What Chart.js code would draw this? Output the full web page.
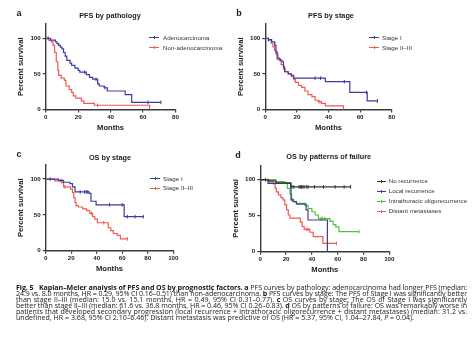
<!DOCTYPE html>
<html><head><meta charset="utf-8">
<script src="https://cdn.jsdelivr.net/npm/chart.js@4.4.1/dist/chart.umd.min.js"></script>
<style>
html,body{margin:0;padding:0;background:#fff;}
body{width:473px;height:339px;position:relative;overflow:hidden;font-family:"Liberation Sans",Arial,sans-serif;color:#222;}
canvas{position:absolute;}
.t{position:absolute;white-space:nowrap;transform:translate(-50%,-50%);font-weight:bold;color:#222;line-height:1;}
.lt{font-size:9px;}
.ti{font-size:7.3px;}
.lg{position:absolute;white-space:nowrap;font-size:6.2px;color:#333;line-height:1;transform:translateY(-50%);}
.sw{position:absolute;height:0;}
.sw i{position:absolute;left:50%;top:-2px;width:0;height:3px;}
.cap{position:absolute;left:16px;top:284px;width:451px;font-family:"Open Sans","Liberation Sans",sans-serif;font-size:7.1px;line-height:6px;color:#1a1a1a;will-change:transform;}
.cap div{text-align:justify;text-align-last:justify;white-space:nowrap;}
.cap div.last{text-align-last:left;}
</style>
</head><body>
<canvas id="ca"></canvas><canvas id="cb"></canvas><canvas id="cc"></canvas><canvas id="cd"></canvas>
<div class="t lt" style="left:19px;top:13px">a</div>
<div class="t lt" style="left:239px;top:13px">b</div>
<div class="t lt" style="left:19px;top:154px">c</div>
<div class="t lt" style="left:238px;top:155px">d</div>
<div class="t ti" style="left:110px;top:15.7px">PFS by pathology</div>
<div class="t ti" style="left:331px;top:15.7px">PFS by stage</div>
<div class="t ti" style="left:110px;top:158px">OS by stage</div>
<div class="t ti" style="left:328.7px;top:157px">OS by patterns of failure</div>
<div id="legends"></div>
<div class="cap">
<div><b>Fig. 5&nbsp;&nbsp; Kaplan–Meier analysis of PFS and OS by prognostic factors.</b> <b>a</b> PFS curves by pathology: adenocarcinoma had longer PFS (median:</div>
<div>24.9 vs. 8.0 months, HR = 0.29, 95% CI 0.16–0.51) than non-adenocarcinoma. <b>b</b> PFS curves by stage: The PFS of Stage I was significantly better</div>
<div>than stage II–III (median: 15.0 vs. 15.1 months, HR = 0.49, 95% CI 0.31–0.77). <b>c</b> OS curves by stage: The OS of Stage I was significantly</div>
<div>better than stage II–III (median: 61.6 vs. 36.8 months, HR = 0.46, 95% CI 0.26–0.83). <b>d</b> OS by patterns of failure: OS was remarkably worse in</div>
<div>patients that developed secondary progression (local recurrence + intrathoracic oligorecurrence + distant metastases) (median: 31.2 vs.</div>
<div class="last">undefined, HR = 3.68, 95% CI 2.10–6.46). Distant metastasis was predictive of OS (HR = 5.37, 95% CI, 1.04–27.84, <i>P</i> = 0.04).</div>
</div>
<script>
// ---------- DATA ----------
const yTicks = [0, 50, 100];
const xTicks80 = [0, 20, 40, 60, 80];
const xTicks100 = [0, 20, 40, 60, 80, 100];

// Panel a: PFS by pathology
const aLabels = ['Adenocarcinoma', 'Non-adenocarcinoma'];
const aAdenoT = [0, 3, 6, 7, 8, 9, 10, 11, 12, 13, 15, 16, 18, 20, 21, 25, 27, 29, 32, 33, 36, 38, 49, 53, 71];
const aAdenoS = [100, 97.5, 95, 92.5, 90, 87.5, 85, 80, 75, 69, 65, 62, 58, 55, 52.5, 49, 45, 42.5, 36, 33, 30.5, 26, 21, 10, 10];
const aAdenoC = [1.5, 24, 31, 36.5, 63, 71];
const aNonT = [0, 2, 3.5, 4.5, 5.5, 6.5, 7.5, 8, 9.5, 11.5, 12.5, 14.5, 16, 17, 18.5, 22, 23.5, 30, 64];
const aNonS = [100, 97, 95, 90, 80, 67, 55, 48, 44, 41, 33, 28, 24, 19, 16, 12, 8.5, 6, 0];
const aNonC = [32];

// Panel b: PFS by stage
const bLabels = ['Stage I', 'Stage II–III'];
const bIT = [0, 2, 4, 6, 6.7, 7.5, 9.5, 10.5, 11.5, 12.2, 14.5, 16.5, 18, 38, 53.5, 64.5, 71];
const bIS = [100, 98, 95, 90, 81, 71, 69, 67, 60, 53, 50, 48, 44, 39, 24, 12, 12];
const bIC = [2, 31.5, 35, 50, 64, 71];
const bIIT = [0, 2, 3.8, 4.8, 5.9, 6.7, 8, 8.8, 10, 11.5, 12.5, 14.5, 16.5, 18, 19, 21, 23, 25, 27, 29.5, 31.5, 33.5, 35.5, 38, 49.5];
const bIIS = [100, 97.5, 93, 88, 83, 78, 73, 69, 63, 57, 53, 50, 46, 42, 38, 34, 31, 26, 21, 18, 13, 11, 8.5, 5, 0];
const bIIC = [34];

// Panel c: OS by stage
const cLabels = ['Stage I', 'Stage II–III'];
const cIT = [0, 10, 14, 19, 21, 23, 34, 35.5, 39.5, 61.5, 77];
const cIS = [100, 98, 95.5, 93.5, 89, 82, 80, 69, 64, 47.5, 47.5];
const cIC = [3.5, 12, 27, 30.5, 32, 33, 50, 60, 64, 70, 76.5];
const cIIT = [0, 7, 12.5, 14, 19.5, 21, 22, 23, 23.8, 25.5, 29, 32, 34.5, 36.8, 38.5, 40.5, 49, 51, 53, 56, 58.5, 64];
const cIIS = [100, 97.5, 95, 89, 86, 81, 74, 67, 63, 61, 58.5, 56, 52, 47.5, 44, 39, 32, 28, 24, 21.5, 16.5, 16.5];
const cIIC = [15, 36, 45.5, 64];

// Panel d: OS by patterns of failure
const dLabels = ['No recurrence', 'Local recurrence', 'Intrathoracic oligorecurrence', 'Distant metastases'];
const dNoT = [0, 6, 12, 23.5, 70];
const dNoS = [100, 98.5, 95.5, 90, 90];
const dNoC = [4, 24.5, 26, 30, 31, 32, 33, 34, 36, 37, 42, 49, 58, 65, 70];
const dLocT = [0, 6, 23.8, 25.5, 28, 35.5, 37, 52];
const dLocS = [100, 95, 72, 69.5, 66, 58, 44, 0];
const dLocC = [];
const dIntT = [0, 12, 19, 21, 23, 24.3, 26, 28, 34.7, 37, 40, 42.5, 45, 54, 56.5, 58.5, 61, 76.5];
const dIntS = [100, 97.5, 95, 88, 80, 72, 69.5, 67, 64, 60, 55.5, 51, 46, 42, 37.5, 34.5, 28, 28];
const dIntC = [25, 47, 48, 50, 76.5];
const dDisT = [0, 7, 10, 11.5, 12.5, 14, 16, 17.5, 19, 20.4, 21.7, 23, 31, 32.5, 34, 38.5, 41, 48.5, 59];
const dDisS = [100, 97, 94, 88, 83, 79, 75, 72, 65, 58, 51, 46.5, 41, 35, 31, 27, 21, 11.5, 11.5];
const dDisC = [36, 37, 59];

// ---------- STYLE ----------
const BLUE = '#3c3c9c', RED = '#ef5a55', GREEN = '#4fc43a', BLACK = '#333333';
const AX = '#3a3a3a';

function stepAt(T, S, t) { let v = S[0]; for (let i = 0; i < T.length; i++) { if (T[i] <= t) v = S[i]; } return v; }
function series(label, T, S, C, color) {
  return [
    { label, data: T.map((t, i) => ({ x: t, y: S[i] })), borderColor: color, backgroundColor: color,
      borderWidth: 1.2, stepped: true, pointRadius: 0, fill: false, clip: false },
    { label: label + ' (censored)', data: C.map(t => ({ x: t, y: stepAt(T, S, t) })), showLine: false,
      pointStyle: 'line', rotation: 90, pointRadius: 1.8, borderColor: color, backgroundColor: color,
      pointBorderWidth: 1, borderWidth: 1, clip: false }
  ];
}

function makeChart(id, box, area, datasets, xMax, xTicks, yTitleX, monthsY) {
  const cv = document.getElementById(id);
  cv.width = box.w; cv.height = box.h;
  cv.style.left = box.l + 'px'; cv.style.top = box.t + 'px';
  cv.style.width = box.w + 'px'; cv.style.height = box.h + 'px';
  const tf = { family: '"Liberation Sans", Arial, sans-serif', size: 6.2, weight: 'bold' };
  const titleFont = { family: '"Liberation Sans", Arial, sans-serif', size: 7.6, weight: 'bold', lineHeight: 1.2 };
  const half = 7.6 * 1.2 / 2;
  new Chart(cv, {
    type: 'line',
    data: { datasets },
    options: {
      responsive: false, animation: false, devicePixelRatio: 1,
      layout: { padding: { left: 0, top: area.t, right: box.w - area.r, bottom: 0 } },
      plugins: { legend: { display: false }, tooltip: { enabled: false }, title: { display: false } },
      scales: {
        x: {
          type: 'linear', min: 0, max: xMax,
          afterBuildTicks: s => { s.ticks = xTicks.map(v => ({ value: v })); },
          afterFit: s => { s.height = box.h - area.b; },
          ticks: { font: tf, color: '#222', padding: 1, maxRotation: 0, autoSkip: false },
          grid: { display: true, drawOnChartArea: false, drawTicks: true, tickLength: 3, color: AX, lineWidth: 1.2 },
          border: { display: true, color: AX, width: 1.4 },
          title: { display: true, text: 'Months', font: titleFont, color: '#222',
                   padding: { top: 0, bottom: Math.max(0, box.h - monthsY - half) } }
        },
        y: {
          type: 'linear', min: 0, max: 120,
          afterBuildTicks: s => { s.ticks = yTicks.map(v => ({ value: v })); },
          afterFit: s => { s.width = area.l; },
          ticks: { font: tf, color: '#222', padding: 2, autoSkip: false },
          grid: { display: true, drawOnChartArea: false, drawTicks: true, tickLength: 3, color: AX, lineWidth: 1.2 },
          border: { display: true, color: AX, width: 1.4 },
          title: { display: true, text: 'Percent survival', font: titleFont, color: '#222',
                   padding: { top: Math.max(0, yTitleX - half), bottom: 0 } }
        }
      }
    }
  });
}

// Panel a
makeChart('ca', { l: 0, t: 0, w: 236, h: 140 }, { l: 45.7, r: 175.5, t: 24, b: 109.5 },
  [...series(aLabels[0], aAdenoT, aAdenoS, aAdenoC, BLUE), ...series(aLabels[1], aNonT, aNonS, aNonC, RED)],
  80, xTicks80, 20.7, 128);
// Panel b
makeChart('cb', { l: 236, t: 0, w: 237, h: 140 }, { l: 29.3, r: 155.7, t: 24, b: 109.5 },
  [...series(bLabels[0], bIT, bIS, bIC, BLUE), ...series(bLabels[1], bIIT, bIIS, bIIC, RED)],
  80, xTicks80, 5, 128.3);
// Panel c
makeChart('cc', { l: 0, t: 140, w: 236, h: 140 }, { l: 45.7, r: 173.3, t: 24.7, b: 110.7 },
  [...series(cLabels[0], cIT, cIS, cIC, BLUE), ...series(cLabels[1], cIIT, cIIS, cIIC, RED)],
  100, xTicks100, 20.7, 129);
// Panel d
makeChart('cd', { l: 228, t: 140, w: 245, h: 140 }, { l: 32.3, r: 161.3, t: 25.3, b: 111.7 },
  [...series(dLabels[0], dNoT, dNoS, dNoC, BLACK), ...series(dLabels[1], dLocT, dLocS, dLocC, BLUE),
   ...series(dLabels[2], dIntT, dIntS, dIntC, GREEN), ...series(dLabels[3], dDisT, dDisS, dDisC, RED)],
  100, xTicks100, 8, 130);

// Legends (HTML)
function legend(labels, colors, x0, x1, tx, ys) {
  const host = document.getElementById('legends');
  labels.forEach((lab, i) => {
    const sw = document.createElement('div');
    sw.className = 'sw';
    sw.style.cssText = `left:${x0}px;top:${ys[i]}px;width:${x1 - x0}px;border-top:1.2px solid ${colors[i]}`;
    const tk = document.createElement('i');
    tk.style.borderLeft = `1px solid ${colors[i]}`;
    sw.appendChild(tk);
    host.appendChild(sw);
    const t = document.createElement('div');
    t.className = 'lg';
    t.style.left = tx + 'px'; t.style.top = (ys[i] + 0.5) + 'px';
    t.textContent = lab;
    host.appendChild(t);
  });
}
legend(aLabels, [BLUE, RED], 149, 159, 163, [37, 47]);
legend(bLabels, [BLUE, RED], 369, 379, 382, [37, 47]);
legend(cLabels, [BLUE, RED], 150, 160, 163, [178, 187.5]);
legend(dLabels, [BLACK, BLUE, GREEN, RED], 376.7, 386, 388.7, [180.7, 190.7, 200.7, 210.7]);

// Fit caption lines: shrink letter-spacing of any justified line that is wider than the block
document.querySelectorAll('.cap div').forEach(d => {
  d.style.display = 'inline-block';
  const w = d.getBoundingClientRect().width;
  d.style.display = 'block';
  if (w > 451) {
    const n = d.textContent.length;
    d.style.letterSpacing = ((451 - w) / n) + 'px';
  }
});
</script>
</body></html>
